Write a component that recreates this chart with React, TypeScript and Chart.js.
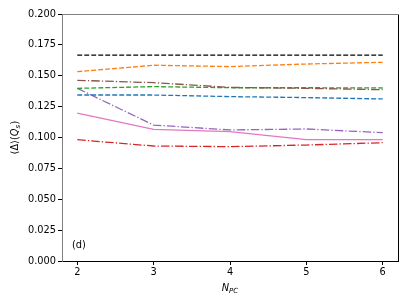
import React, { useEffect, useRef } from "react";
import { Chart, registerables } from "chart.js";

Chart.register(...registerables);

const xValues = [2, 3, 4, 5, 6];
const xTicks = [2, 3, 4, 5, 6];
const yTicks = [0, 0.025, 0.05, 0.075, 0.1, 0.125, 0.15, 0.175, 0.2];

const blackSeries = [0.1667, 0.1667, 0.1667, 0.1667, 0.1667];
const orangeSeries = [0.1533, 0.1585, 0.1574, 0.1595, 0.1609];
const brownSeries = [0.1463, 0.1444, 0.1406, 0.1398, 0.1387];
const greenSeries = [0.1398, 0.1412, 0.1403, 0.1403, 0.1401];
const blueSeries = [0.1344, 0.1344, 0.1331, 0.1323, 0.1312];
const purpleSeries = [0.1398, 0.1101, 0.1061, 0.1069, 0.1039];
const pinkSeries = [0.1198, 0.1066, 0.1047, 0.0982, 0.0982];
const redSeries = [0.0982, 0.0931, 0.0926, 0.0939, 0.0958];

const DASHED = [4.9, 2.1];
const DASHDOT = [8.5, 2.1, 1.3, 2.1];

const FONT = "'DejaVu Sans', sans-serif";
const FS = 9.8;
const SUB = 7;

const textPlugin = {
  id: "extras",
  afterDraw(chart: any) {
    const { ctx, chartArea } = chart;
    const { left, right, top, bottom } = chartArea;
    ctx.save();
    // spines
    ctx.lineWidth = 1;
    ctx.strokeStyle = "#000";
    ctx.beginPath();
    ctx.moveTo(right + 0.5, top);
    ctx.lineTo(right + 0.5, bottom);
    ctx.stroke();
    ctx.strokeStyle = "#808080";
    ctx.beginPath();
    ctx.moveTo(left, top + 0.5);
    ctx.lineTo(right + 1, top + 0.5);
    ctx.stroke();
    // (d)
    ctx.fillStyle = "#000";
    ctx.font = `${FS}px ${FONT}`;
    ctx.textAlign = "left";
    ctx.textBaseline = "middle";
    ctx.fillText("(d)", left + 10, 245);
    // x label
    ctx.font = `italic ${FS}px ${FONT}`;
    ctx.textBaseline = "alphabetic";
    const nW = ctx.measureText("N").width;
    ctx.font = `italic ${SUB}px ${FONT}`;
    const pcW = ctx.measureText("PC").width;
    const cx = (left + right) / 2;
    const startX = cx - (nW + pcW) / 2;
    ctx.font = `italic ${FS}px ${FONT}`;
    ctx.fillText("N", startX, 291);
    ctx.font = `italic ${SUB}px ${FONT}`;
    ctx.fillText("PC", startX + nW, 293);
    // y label
    ctx.translate(18, (top + bottom) / 2);
    ctx.rotate(-Math.PI / 2);
    ctx.font = `${FS}px ${FONT}`;
    const openW = ctx.measureText("⟨Δ⟩(").width;
    const closeW = ctx.measureText(")").width;
    ctx.font = `italic ${FS}px ${FONT}`;
    const qW = ctx.measureText("Q").width;
    ctx.font = `italic ${SUB}px ${FONT}`;
    const sW = ctx.measureText("s").width;
    const total = openW + qW + sW + closeW + 0.5;
    const x0 = -total / 2;
    ctx.font = `${FS}px ${FONT}`;
    ctx.fillText("⟨Δ⟩(", x0, 0);
    ctx.font = `italic ${FS}px ${FONT}`;
    ctx.fillText("Q", x0 + openW, 0);
    ctx.font = `italic ${SUB}px ${FONT}`;
    ctx.fillText("s", x0 + openW + qW, 2);
    ctx.font = `${FS}px ${FONT}`;
    ctx.fillText(")", x0 + openW + qW + sW + 0.5, 0);
    ctx.restore();
  },
};

function ds(data: number[], color: string, dash: number[]) {
  return {
    data: xValues.map((x, i) => ({ x, y: data[i] })),
    borderColor: color,
    backgroundColor: color,
    borderWidth: 1.3,
    borderDash: dash,
    pointRadius: 0,
    tension: 0,
    fill: false,
  };
}

export default function App() {
  const ref = useRef<HTMLCanvasElement | null>(null);
  useEffect(() => {
    document.body.style.margin = "0";
    const canvas = ref.current!;
    const chart = new Chart(canvas, {
      type: "line",
      data: {
        datasets: [
          ds(blackSeries, "#000000", DASHED),
          ds(orangeSeries, "#ff7f0e", DASHED),
          ds(brownSeries, "#8c564b", DASHDOT),
          ds(greenSeries, "#2ca02c", DASHED),
          ds(blueSeries, "#1f77b4", DASHED),
          ds(purpleSeries, "#9467bd", DASHDOT),
          ds(pinkSeries, "#e377c2", []),
          ds(redSeries, "#d62728", DASHDOT),
        ],
      },
      options: {
        animation: false,
        responsive: false,
        maintainAspectRatio: false,
        layout: { padding: { top: 14, right: 9, left: 0, bottom: 0 } },
        plugins: { legend: { display: false }, tooltip: { enabled: false } },
        scales: {
          x: {
            type: "linear",
            min: 1.8,
            max: 6.2,
            afterBuildTicks: (scale: any) => {
              scale.ticks = xTicks.map((v) => ({ value: v }));
            },
            afterFit: (scale: any) => {
              scale.height = 44;
            },
            grid: {
              display: true,
              drawOnChartArea: false,
              drawTicks: true,
              tickLength: 4,
              tickColor: "#000",
            },
            border: { display: true, color: "#000", width: 1 },
            ticks: {
              color: "#000",
              font: { family: FONT, size: FS },
              padding: 2,
              maxRotation: 0,
              callback: (v: any) => String(v),
            },
          },
          y: {
            type: "linear",
            min: 0,
            max: 0.2,
            afterBuildTicks: (scale: any) => {
              scale.ticks = yTicks.map((v) => ({ value: v }));
            },
            afterFit: (scale: any) => {
              scale.width = 62;
            },
            grid: {
              display: true,
              drawOnChartArea: false,
              drawTicks: true,
              tickLength: 4,
              tickColor: "#000",
            },
            border: { display: true, color: "#808080", width: 1 },
            ticks: {
              color: "#000",
              font: { family: FONT, size: FS },
              padding: 2,
              callback: (v: any) => Number(v).toFixed(3),
            },
          },
        },
      },
      plugins: [textPlugin],
    });
    return () => chart.destroy();
  }, []);
  return <canvas ref={ref} width={407} height={305} style={{ display: "block" }} />;
}
